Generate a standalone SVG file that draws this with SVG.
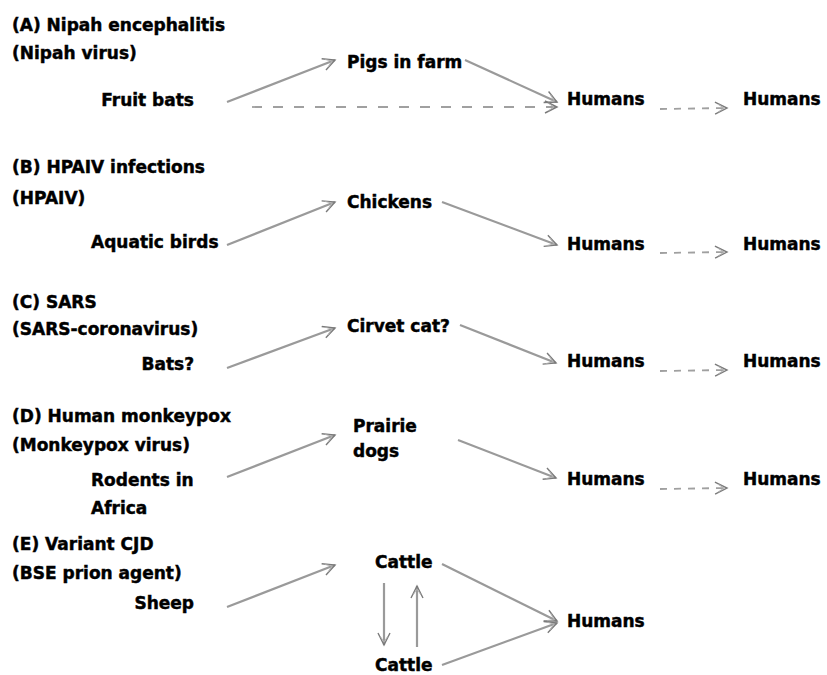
<svg xmlns="http://www.w3.org/2000/svg" width="827" height="675" viewBox="0 0 827 675">
<defs>
<style>
text{font-family:"DejaVu Sans","Liberation Sans",sans-serif;font-weight:bold;font-size:17px;fill:#000;stroke:#000;stroke-width:0.45}
.end{text-anchor:end}
.arr{stroke:#9a9a9a;stroke-width:2.2;fill:none;marker-end:url(#ah)}
.dash{stroke:#a0a0a0;stroke-width:1.8;fill:none;stroke-dasharray:10 11;marker-end:url(#ah)}
.dash2{stroke:#a0a0a0;stroke-width:1.8;fill:none;stroke-dasharray:7 7;marker-end:url(#ah)}
</style>
<marker id="ah" markerUnits="userSpaceOnUse" markerWidth="16" markerHeight="14" refX="13" refY="7" orient="auto" viewBox="0 0 16 14">
<path d="M1,1 L13,7 L1,13" fill="none" stroke="#7a7a7a" stroke-width="1.4"/>
<path d="M4,3 L10,7 L4,11" fill="none" stroke="#b0b0b0" stroke-width="1"/>
</marker>
</defs>
<rect width="827" height="675" fill="#fff"/>

<g id="panelA">
<g id="A-title"><text x="12" y="31">(A) Nipah encephalitis</text><text x="12" y="59">(Nipah virus)</text></g>
<g id="A-fruitbats"><text class="end" x="194" y="106">Fruit bats</text></g>
<g id="A-pigs"><text x="347" y="68">Pigs in farm</text></g>
<g id="A-humans1"><text x="567" y="105">Humans</text></g>
<g id="A-humans2"><text x="743" y="105">Humans</text></g>
</g>

<g id="panelB">
<g id="B-title"><text x="12" y="173">(B) HPAIV infections</text><text x="12" y="204">(HPAIV)</text></g>
<g id="B-aquatic"><text x="91" y="248">Aquatic birds</text></g>
<g id="B-chickens"><text x="347" y="208">Chickens</text></g>
<g id="B-humans1"><text x="567" y="250">Humans</text></g>
<g id="B-humans2"><text x="743" y="250">Humans</text></g>
</g>

<g id="panelC">
<g id="C-title"><text x="12" y="308">(C) SARS</text><text x="12" y="335">(SARS-coronavirus)</text></g>
<g id="C-bats"><text class="end" x="194" y="370">Bats?</text></g>
<g id="C-civet"><text x="347" y="332">Cirvet cat?</text></g>
<g id="C-humans1"><text x="567" y="367">Humans</text></g>
<g id="C-humans2"><text x="743" y="367">Humans</text></g>
</g>

<g id="panelD">
<g id="D-title"><text x="12" y="422">(D) Human monkeypox</text><text x="12" y="451">(Monkeypox virus)</text></g>
<g id="D-rodents"><text x="91" y="486">Rodents in</text><text x="91" y="514">Africa</text></g>
<g id="D-prairie"><text x="353" y="432">Prairie</text><text x="353" y="457">dogs</text></g>
<g id="D-humans1"><text x="567" y="485">Humans</text></g>
<g id="D-humans2"><text x="743" y="485">Humans</text></g>
</g>

<g id="panelE">
<g id="E-title"><text x="12" y="550">(E) Variant CJD</text><text x="12" y="579">(BSE prion agent)</text></g>
<g id="E-sheep"><text class="end" x="194" y="609">Sheep</text></g>
<g id="E-cattle1"><text x="375" y="568">Cattle</text></g>
<g id="E-cattle2"><text x="375" y="671">Cattle</text></g>
<g id="E-humans"><text x="567" y="627">Humans</text></g>
</g>

<g id="connectors">
<line class="arr" x1="227" y1="102" x2="335" y2="60"/>
<line class="arr" x1="465" y1="60" x2="557" y2="102"/>
<line class="dash" x1="252" y1="107" x2="557" y2="107"/>
<line class="dash2" x1="660" y1="109" x2="727" y2="108"/>

<line class="arr" x1="227" y1="245" x2="335" y2="202"/>
<line class="arr" x1="442" y1="202" x2="557" y2="245"/>
<line class="dash2" x1="660" y1="253" x2="727" y2="252"/>

<line class="arr" x1="227" y1="368" x2="335" y2="328"/>
<line class="arr" x1="460" y1="325" x2="556" y2="363"/>
<line class="dash2" x1="660" y1="371" x2="727" y2="370"/>

<line class="arr" x1="227" y1="477" x2="335" y2="435"/>
<line class="arr" x1="458" y1="440" x2="556" y2="478"/>
<line class="dash2" x1="660" y1="489" x2="727" y2="488"/>

<line class="arr" x1="227" y1="607" x2="335" y2="565"/>
<line class="arr" x1="442" y1="564" x2="557" y2="621"/>
<line class="arr" x1="442" y1="665" x2="557" y2="623"/>
<line class="arr" x1="384" y1="583" x2="384" y2="645"/>
<line class="arr" x1="417" y1="647" x2="417" y2="586"/>
</g>
</svg>
